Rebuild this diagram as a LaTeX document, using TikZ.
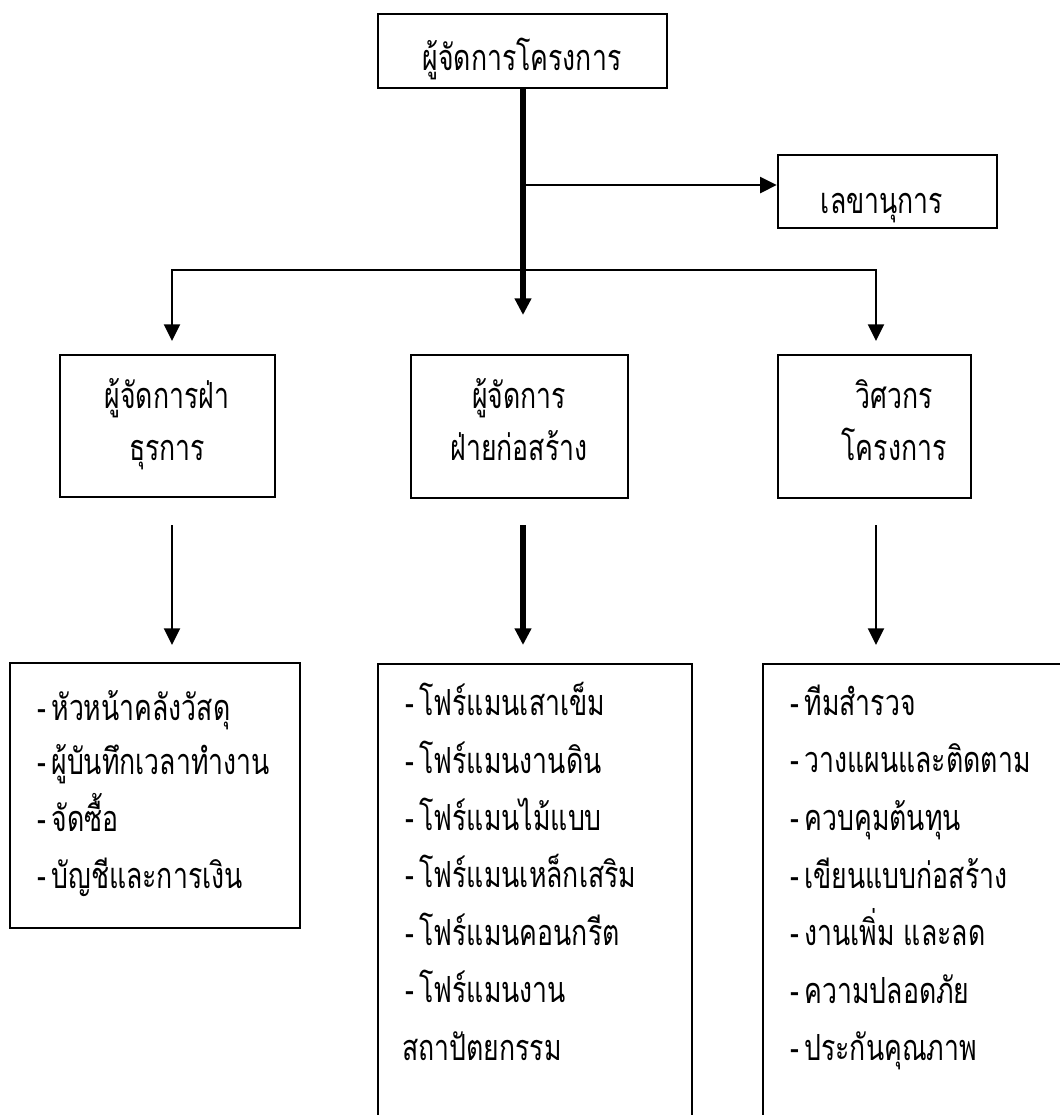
\documentclass[tikz,border=0pt]{standalone}
\usepackage{fontspec}
\newfontfamily\thaifont[Script=Thai,FakeStretch=0.74]{Loma}
\newcommand\itemdash{-\hspace{4pt}}
\usetikzlibrary{arrows.meta,fit}

\begin{document}
\begin{tikzpicture}[x=0.75pt,y=-0.75pt,
  box/.style={draw, line width=1.8pt, inner sep=0pt, rectangle},
  txt/.style={inner sep=0pt, font=\thaifont\fontsize{27pt}{32pt}\selectfont},
  thin/.style={line width=1.7pt},
  heavy/.style={line width=3.8pt},
  tip/.style={-{Triangle[length=12.5pt,width=12pt]}},
  tips/.style={{Triangle[length=12.5pt,width=12pt]}-{Triangle[length=12.5pt,width=12pt]}}]
\clip (0,0) rectangle (1060,1115);

% boxes
\node[box, fit={(378,14) (667,88)}] (pm) {};
\node[box, fit={(778,155) (997,228)}] (sec) {};
\node[box, fit={(60,355) (275,497)}] (adm) {};
\node[box, fit={(411,355) (628,498)}] (con) {};
\node[box, fit={(778,355) (971,498)}] (eng) {};
\node[box, fit={(10,663) (300,928)}] (admlist) {};
\node[box, fit={(378,664) (692,1140)}] (conlist) {};
\node[box, fit={(763,664) (1090,1140)}] (englist) {};

% box titles
\node[txt, anchor=base] (pmt) at (522,70) {ผู้จัดการโครงการ};
\node[txt, anchor=base] (sect) at (882,213) {เลขานุการ};
\node[txt, anchor=base] (admt1) at (167,408) {ผู้จัดการฝ่า};
\node[txt, anchor=base] (admt2) at (167,460) {ธุรการ};
\node[txt, anchor=base] (cont1) at (519,408) {ผู้จัดการ};
\node[txt, anchor=base] (cont2) at (519,460) {ฝ่ายก่อสร้าง};
\node[txt, anchor=base] (engt1) at (894,408) {วิศวกร};
\node[txt, anchor=base] (engt2) at (894,460) {โครงการ};

% list entries
\node[txt, anchor=base west] (a1) at (37,720) {\itemdash หัวหน้าคลังวัสดุ};
\node[txt, anchor=base west] (a2) at (37,774) {\itemdash ผู้บันทึกเวลาทำงาน};
\node[txt, anchor=base west] (a3) at (37,831) {\itemdash จัดซื้อ};
\node[txt, anchor=base west] (a4) at (37,888) {\itemdash บัญชีและการเงิน};

\node[txt, anchor=base west] (c1) at (405,715) {\itemdash โฟร์แมนเสาเข็ม};
\node[txt, anchor=base west] (c2) at (405,773) {\itemdash โฟร์แมนงานดิน};
\node[txt, anchor=base west] (c3) at (405,830) {\itemdash โฟร์แมนไม้แบบ};
\node[txt, anchor=base west] (c4) at (405,887) {\itemdash โฟร์แมนเหล็กเสริม};
\node[txt, anchor=base west] (c5) at (405,945) {\itemdash โฟร์แมนคอนกรีต};
\node[txt, anchor=base west] (c6) at (405,1002) {\itemdash โฟร์แมนงาน};
\node[txt, anchor=base west] (c7) at (402,1060) {สถาปัตยกรรม};

\node[txt, anchor=base west] (e1) at (790,715) {\itemdash ทีมสำรวจ};
\node[txt, anchor=base west] (e2) at (790,772) {\itemdash วางแผนและติดตาม};
\node[txt, anchor=base west] (e3) at (790,830) {\itemdash ควบคุมต้นทุน};
\node[txt, anchor=base west] (e4) at (790,888) {\itemdash เขียนแบบก่อสร้าง};
\node[txt, anchor=base west] (e5) at (790,945) {\itemdash งานเพิ่ม และลด};
\node[txt, anchor=base west] (e6) at (790,1003) {\itemdash ความปลอดภัย};
\node[txt, anchor=base west] (e7) at (790,1060) {\itemdash ประกันคุณภาพ};

% junction points
\coordinate (midtip) at (523,315);
\coordinate (secjoin) at (523,185);
\coordinate (busL) at (172,270);
\coordinate (busR) at (876,270);
\coordinate (admtip) at (172,341);
\coordinate (engtip) at (876,341);
\coordinate (admout) at (172,525);
\coordinate (conout) at (523,525);
\coordinate (engout) at (876,525);
\coordinate (admin) at (172,645);
\coordinate (conin) at (523,645);
\coordinate (engin) at (876,645);

% connectors
\draw[heavy, tip] (pm.south -| midtip) -- (midtip);
\draw[thin, tip] (secjoin) -- (sec.west |- secjoin);
\draw[thin, tips, line join=miter] (admtip) -- (busL) -- (busR) -- (engtip);
\draw[thin, tip] (admout) -- (admin);
\draw[heavy, tip] (conout) -- (conin);
\draw[thin, tip] (engout) -- (engin);
\end{tikzpicture}
\end{document}
